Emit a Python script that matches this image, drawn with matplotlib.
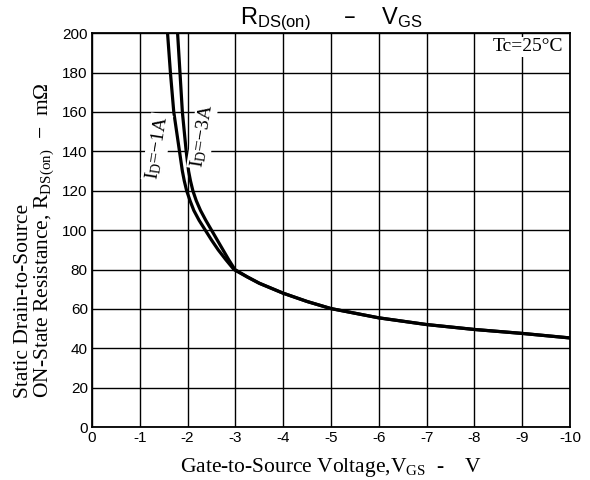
import matplotlib
matplotlib.use("Agg")
import matplotlib.pyplot as plt

# math parts use the text's own font, so subscripts match each label
plt.rcParams['mathtext.default'] = 'regular'

# values
vgs_1a = [-1.58, -1.64, -1.71, -1.77, -1.83, -1.89, -1.93, -1.98, -2.05, -2.13, -2.24,
          -2.37, -2.50, -2.64, -2.80, -2.97, -3.25, -3.5, -4, -4.5, -5, -6, -7, -8, -9, -10]
rds_1a = [200, 180, 160, 150, 140, 130, 125, 120, 115, 110, 105,
          100, 95, 90, 85, 80, 76.2, 73, 68, 63.8, 60.2, 55.5, 52.1, 49.6, 47.6, 45.3]
vgs_3a = [-1.79, -1.84, -1.89, -1.93, -1.97, -2.02, -2.06, -2.11, -2.18, -2.27, -2.38,
          -2.50, -2.62, -2.74, -2.86, -2.99, -3.25, -3.5, -4, -4.5, -5, -6, -7, -8, -9, -10]
rds_3a = [200, 180, 160, 150, 140, 130, 125, 120, 115, 110, 105,
          100, 95, 90, 85, 80, 76.3, 73.1, 68, 63.8, 60.2, 55.5, 52.1, 49.6, 47.6, 45.3]

x_ticks = [0, -1, -2, -3, -4, -5, -6, -7, -8, -9, -10]
y_ticks = [0, 20, 40, 60, 80, 100, 120, 140, 160, 180, 200]

SERIF = 'Liberation Serif'
SANS = 'Liberation Sans'

fig = plt.figure(figsize=(5.9, 4.8), dpi=100)
ax = fig.add_axes([0.156, 0.110, 0.810, 0.821])

ax.plot(vgs_1a, rds_1a, color='black', lw=2.3, zorder=3)
ax.plot(vgs_3a, rds_3a, color='black', lw=2.3, zorder=3)

ax.set_xlim(0, -10)
ax.set_ylim(0, 200)
ax.set_xticks(x_ticks)
ax.set_yticks(y_ticks)
ax.set_xticklabels([str(v) for v in x_ticks], fontfamily=SANS, fontsize=11)
ax.set_yticklabels([str(v) for v in y_ticks], fontfamily=SANS, fontsize=11)
ax.tick_params(length=0, pad=3)
ax.grid(True, color='black', lw=1.0)
for s in ax.spines.values():
    s.set_linewidth(1.3)
    s.set_color('black')

ax.set_title(r'R$_{DS(on)}$     –    V$_{GS}$', fontfamily=SANS, fontsize=17, pad=2)
ax.set_xlabel(r'Gate-to-Source Voltage,V$_{GS}$  -    V', fontfamily=SERIF,
              fontsize=15.5)
ax.xaxis.set_label_coords(0.5, -0.072)
ax.set_ylabel('Static Drain-to-Source\n' + r'ON-State Resistance, R$_{DS(on)}$  −  mΩ',
              fontfamily=SERIF, fontsize=15.5, linespacing=0.95,
              multialignment='left')
ax.yaxis.set_label_coords(-0.076, 0.475)

box = dict(facecolor='white', edgecolor='none', pad=1)
ax.text(-1.36, 142, r'I$_{D}$=−1A', rotation=81, fontfamily=SERIF,
        fontsize=14, ha='center', va='center', bbox=box, zorder=4)
ax.text(-2.31, 148, r'I$_{D}$=−3A', rotation=81, fontfamily=SERIF,
        fontsize=14, ha='center', va='center', bbox=box, zorder=4)
ax.text(-9.86, 193, 'Tc=25°C', fontfamily=SERIF, fontsize=14,
        ha='right', va='center', bbox=box, zorder=4)

fig.savefig('out.png', dpi=100)
